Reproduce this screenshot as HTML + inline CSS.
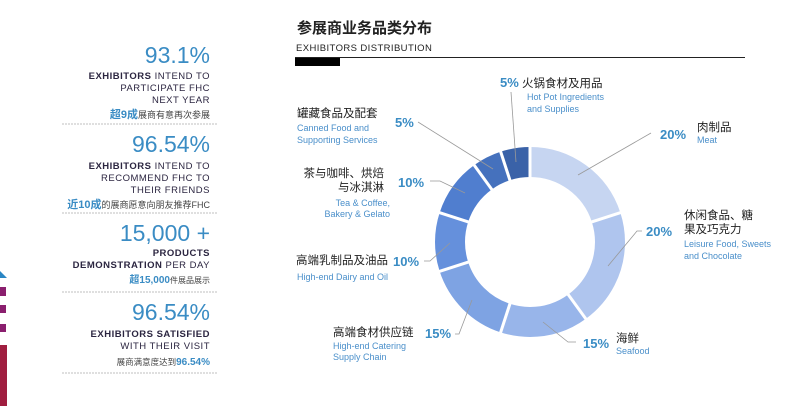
<!DOCTYPE html>
<html><head><meta charset="utf-8">
<style>
html,body{margin:0;padding:0;background:#fff;}
svg{display:block;}
</style></head>
<body>
<svg width="800" height="406" viewBox="0 0 800 406" xmlns="http://www.w3.org/2000/svg" font-family="Liberation Sans, Noto Sans CJK SC, sans-serif">
<rect width="800" height="406" fill="#fff"/>
<!-- left stripes -->
<polygon points="0,271 7,278 0,278" fill="#2a86c4"/>
<rect x="0" y="287" width="6" height="9" fill="#8a1f6e"/>
<rect x="0" y="305" width="6" height="8" fill="#8a1f6e"/>
<rect x="0" y="324" width="6" height="8" fill="#8a1f6e"/>
<rect x="0" y="345" width="7" height="61" fill="#a01e40"/>

<!-- left panel -->
<g text-anchor="end" fill="#2b2540">
<text x="210" y="63" font-size="23" fill="#3a8cc4">93.1%</text>
<text x="210" y="79" font-size="9.5" letter-spacing="0.5"><tspan font-weight="bold">EXHIBITORS</tspan> INTEND TO</text>
<text x="210" y="91" font-size="9.5" letter-spacing="0.5">PARTICIPATE FHC</text>
<text x="210" y="103" font-size="9.5" letter-spacing="0.5">NEXT YEAR</text>
<text x="210" y="118" font-size="9" fill="#444"><tspan fill="#3a8cc4" font-weight="bold" font-size="11">超9成</tspan>展商有意再次参展</text>
<line x1="62" y1="124" x2="218" y2="124" stroke="#aaa" stroke-dasharray="2,1" stroke-width="0.7"/>

<text x="210" y="152" font-size="23" fill="#3a8cc4">96.54%</text>
<text x="210" y="169" font-size="9.5" letter-spacing="0.5"><tspan font-weight="bold">EXHIBITORS</tspan> INTEND TO</text>
<text x="210" y="181" font-size="9.5" letter-spacing="0.5">RECOMMEND FHC TO</text>
<text x="210" y="193" font-size="9.5" letter-spacing="0.5">THEIR FRIENDS</text>
<text x="210" y="208" font-size="9" fill="#444"><tspan fill="#3a8cc4" font-weight="bold" font-size="11">近10成</tspan>的展商愿意向朋友推荐FHC</text>
<line x1="62" y1="213" x2="218" y2="213" stroke="#aaa" stroke-dasharray="2,1" stroke-width="0.7"/>

<text x="210" y="241" font-size="23" fill="#3a8cc4">15,000 +</text>
<text x="210" y="256" font-size="9.5" letter-spacing="0.5" font-weight="bold">PRODUCTS</text>
<text x="210" y="268" font-size="9.5" letter-spacing="0.5"><tspan font-weight="bold">DEMONSTRATION</tspan> PER DAY</text>
<text x="210" y="283" font-size="8" fill="#444"><tspan fill="#3a8cc4" font-weight="bold" font-size="10">超15,000</tspan>件展品展示</text>
<line x1="62" y1="292" x2="218" y2="292" stroke="#aaa" stroke-dasharray="2,1" stroke-width="0.7"/>

<text x="210" y="320" font-size="23" fill="#3a8cc4">96.54%</text>
<text x="210" y="337" font-size="9.5" letter-spacing="0.5" font-weight="bold">EXHIBITORS SATISFIED</text>
<text x="210" y="349" font-size="9.5" letter-spacing="0.5">WITH THEIR VISIT</text>
<text x="210" y="365" font-size="8.5" fill="#444">展商满意度达到<tspan fill="#3a8cc4" font-weight="bold" font-size="10">96.54%</tspan></text>
<line x1="62" y1="373" x2="218" y2="373" stroke="#aaa" stroke-dasharray="2,1" stroke-width="0.7"/>
</g>

<!-- header -->
<text x="297" y="33" font-size="15" font-weight="bold" fill="#222">参展商业务品类分布</text>
<text x="296" y="51" font-size="9.5" fill="#222" letter-spacing="0.4">EXHIBITORS  DISTRIBUTION</text>
<line x1="295" y1="57.5" x2="745" y2="57.5" stroke="#222" stroke-width="1"/>
<rect x="295" y="58" width="45" height="8" fill="#000"/>

<!-- donut -->
<g transform="rotate(-90 530 242)" fill="none" stroke-width="30">
<circle cx="530" cy="242" r="80" stroke="#c6d5f1" stroke-dasharray="100.53 502.65" stroke-dashoffset="0"/>
<circle cx="530" cy="242" r="80" stroke="#afc5ee" stroke-dasharray="100.53 502.65" stroke-dashoffset="-100.53"/>
<circle cx="530" cy="242" r="80" stroke="#98b5ea" stroke-dasharray="75.4 502.65" stroke-dashoffset="-201.06"/>
<circle cx="530" cy="242" r="80" stroke="#7ea3e3" stroke-dasharray="75.4 502.65" stroke-dashoffset="-276.46"/>
<circle cx="530" cy="242" r="80" stroke="#6590dc" stroke-dasharray="50.27 502.65" stroke-dashoffset="-351.86"/>
<circle cx="530" cy="242" r="80" stroke="#507ecf" stroke-dasharray="50.27 502.65" stroke-dashoffset="-402.12"/>
<circle cx="530" cy="242" r="80" stroke="#4571bd" stroke-dasharray="25.13 502.65" stroke-dashoffset="-452.39"/>
<circle cx="530" cy="242" r="80" stroke="#3a62a8" stroke-dasharray="25.13 502.65" stroke-dashoffset="-477.52"/>
</g>
<g stroke="#fff" stroke-width="3">
<line x1="530" y1="178" x2="530" y2="145" transform="rotate(0 530 242)"/>
<line x1="530" y1="178" x2="530" y2="145" transform="rotate(72 530 242)"/>
<line x1="530" y1="178" x2="530" y2="145" transform="rotate(144 530 242)"/>
<line x1="530" y1="178" x2="530" y2="145" transform="rotate(198 530 242)"/>
<line x1="530" y1="178" x2="530" y2="145" transform="rotate(252 530 242)"/>
<line x1="530" y1="178" x2="530" y2="145" transform="rotate(288 530 242)"/>
<line x1="530" y1="178" x2="530" y2="145" transform="rotate(324 530 242)"/>
<line x1="530" y1="178" x2="530" y2="145" transform="rotate(342 530 242)"/>
</g>

<!-- leaders -->
<g stroke="#999" stroke-width="0.8" fill="none">
<line x1="511" y1="92" x2="516" y2="162"/>
<line x1="418" y1="122" x2="493" y2="169"/>
<line x1="651" y1="133" x2="578" y2="175"/>
<polyline points="430,181 440,181 465,193"/>
<polyline points="642,231 637,231 608,266"/>
<polyline points="424,261 430,261 450,243"/>
<polyline points="455,334 459,334 472,300"/>
<polyline points="576,342 568,342 543,322"/>
</g>

<!-- labels -->
<g font-size="11.5" fill="#222">
<text x="500" y="87"><tspan fill="#3a8cc4" font-weight="bold" font-size="13">5%</tspan> 火锅食材及用品</text>
<text x="297" y="117">罐藏食品及配套</text>
<text x="697" y="131">肉制品</text>
<text x="384" y="177" text-anchor="end">茶与咖啡、烘焙</text>
<text x="384" y="191" text-anchor="end">与冰淇淋</text>
<text x="684" y="219">休闲食品、糖</text>
<text x="684" y="233">果及巧克力</text>
<text x="296" y="264">高端乳制品及油品</text>
<text x="333" y="336">高端食材供应链</text>
<text x="616" y="342">海鲜</text>
</g>
<g font-size="13" font-weight="bold" fill="#3a8cc4">
<text x="395" y="127">5%</text>
<text x="660" y="139">20%</text>
<text x="398" y="187">10%</text>
<text x="646" y="236">20%</text>
<text x="393" y="266">10%</text>
<text x="425" y="338">15%</text>
<text x="583" y="348">15%</text>
</g>
<g font-size="9" fill="#4a8fca">
<text x="527" y="100">Hot Pot Ingredients</text>
<text x="527" y="112">and Supplies</text>
<text x="297" y="131">Canned Food and</text>
<text x="297" y="143">Supporting Services</text>
<text x="697" y="143">Meat</text>
<text x="390" y="206" text-anchor="end">Tea &amp; Coffee,</text>
<text x="390" y="217" text-anchor="end">Bakery &amp; Gelato</text>
<text x="684" y="247">Leisure Food, Sweets</text>
<text x="684" y="259">and Chocolate</text>
<text x="297" y="280">High-end Dairy and Oil</text>
<text x="333" y="349">High-end Catering</text>
<text x="333" y="360">Supply Chain</text>
<text x="616" y="354">Seafood</text>
</g>
</svg>
</body></html>
